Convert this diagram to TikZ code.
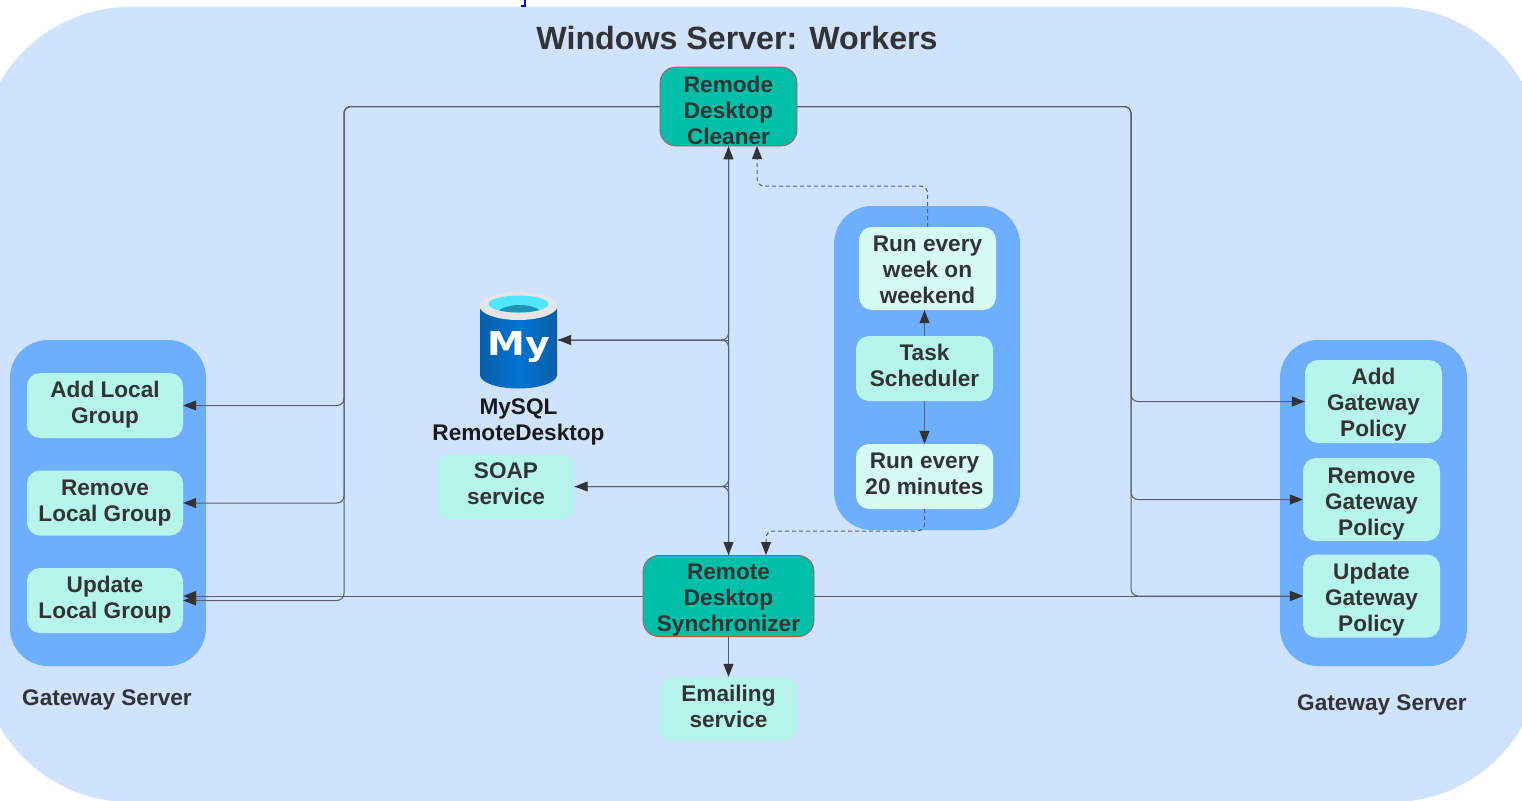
\documentclass[tikz,border=0pt]{standalone}
\usepackage{fontspec}
\setmainfont{Liberation Sans}
\newfontfamily\iconfont{DejaVu Sans}
\usetikzlibrary{arrows.meta}
\definecolor{cloudbg}{HTML}{CFE3FF}
\definecolor{groupbg}{HTML}{6EAEFF}
\definecolor{itembg}{HTML}{B6F5EC}
\definecolor{palebg}{HTML}{D5FBF3}
\definecolor{mainbg}{HTML}{00BFA8}
\definecolor{mainedge}{HTML}{C0505A}
\definecolor{inkgray}{HTML}{333333}
\definecolor{linegray}{HTML}{5A5F68}
\definecolor{drumside}{HTML}{0A5EA8}
\definecolor{drummid}{HTML}{0074D4}
\definecolor{drumtop}{HTML}{50E6FF}
\definecolor{drumdeep}{HTML}{1F94B8}
\tikzset{
  lbl/.style={text=inkgray,font=\fontsize{22.6}{26}\selectfont\bfseries,align=center,inner sep=0pt},
  textdown/.style={execute at begin node={\rule{0pt}{#1}}},
  textup/.style={execute at end node={\rule[-#1]{0pt}{#1}}},
  item/.style={lbl,fill=itembg,rounded corners=13pt,minimum width=137pt},
  paleitem/.style={item,fill=palebg},
  mainitem/.style={item,fill=mainbg,draw=mainedge,line width=0.8pt,rounded corners=16pt},
  groupbox/.style={fill=groupbg,rounded corners=38pt},
  tip/.style={-{Triangle[length=13pt,width=10pt,color=inkgray]}},
  plainconn/.style={draw=linegray,line width=1pt,rounded corners=7pt},
  conn/.style={plainconn,tip},
  dashconn/.style={conn,dash pattern=on 4pt off 3pt}
}
\begin{document}
\begin{tikzpicture}[x=1pt,y=-1pt]
  \useasboundingbox (0,0) rectangle (1522,800);
  \clip (0,0) rectangle (1522,800);
  %background
  \fill[cloudbg,rounded corners=150pt] (-20,7) rectangle (1542,802);
  \draw[blue!80!black,line width=1.2pt] (525,0)--(525,6)--(521,6);
  \node[lbl,font=\fontsize{32.2}{36}\selectfont\bfseries] (title) at (737,38) {Windows Server: Workers};
  %groups
  \fill[groupbox] (10,340) rectangle (206,666);
  \fill[groupbox] (834,206) rectangle (1020,530);
  \fill[groupbox] (1280,340) rectangle (1467,666);
  \node[lbl] (gwleft) at (107,700) {Gateway Server};
  \node[lbl] (gwright) at (1382,705) {Gateway Server};
  %local groups
  \node[item,textup=6.7pt,minimum width=156pt,minimum height=65pt] (addlocal) at (105,405.5) {Add Local\\Group};
  \node[item,minimum width=156pt,minimum height=65pt] (remlocal) at (105,503) {Remove\\Local Group};
  \node[item,textup=6.7pt,minimum width=156pt,minimum height=65pt] (updlocal) at (105,600.5) {Update\\Local Group};
  %gateway policies
  \node[item,textdown=74.5pt,minimum height=83pt] (addgw) at (1373.5,401.5) {Add\\Gateway\\Policy};
  \node[item,textdown=76.5pt,minimum height=83pt] (remgw) at (1371.5,499.5) {Remove\\Gateway\\Policy};
  \node[item,textdown=76.5pt,minimum height=83pt] (updgw) at (1371.5,596) {Update\\Gateway\\Policy};
  %scheduler
  \node[paleitem,textdown=70.5pt,minimum height=83pt] (runweek) at (927.5,268.5) {Run every\\week on\\weekend};
  \node[item,textup=6.3pt,minimum height=65pt] (sched) at (924.5,368.5) {Task\\Scheduler};
  \node[paleitem,textup=6.3pt,minimum height=65pt] (runmin) at (924.5,476.5) {Run every\\20 minutes};
  %middle
  \node[mainitem,textdown=76.5pt,minimum height=79pt] (cleaner) at (728.5,106.5) {Remode\\Desktop\\Cleaner};
  \node[mainitem,textdown=76.5pt,minimum width=171pt,minimum height=81pt] (sync) at (728.5,596) {Remote\\Desktop\\Synchronizer};
  \node[item,textup=5.3pt,minimum height=65pt] (soap) at (506,486.5) {SOAP\\service};
  \node[item,textup=6.3pt,minimum height=64pt] (email) at (728.5,709) {Emailing\\service};
  %mysql icon
  \shade[left color=drumside,right color=drumside,middle color=drummid] (480,307)--(480,375) arc[start angle=180,end angle=0,x radius=38.5,y radius=13.5]--(557,307)--cycle;
  \fill[gray!20] (518.5,306) ellipse[x radius=39,y radius=14];
  \fill[drumtop] (518.5,304) ellipse[x radius=30,y radius=8.5];
  \begin{scope}
    \clip (518.5,304) ellipse[x radius=30,y radius=8.5];
    \fill[drumdeep] (519.5,315) ellipse[x radius=23,y radius=10];
  \end{scope}
  \node[text=white,inner sep=0pt,xscale=1.15,font=\iconfont\fontsize{33}{36}\selectfont\bfseries] (mysql) at (518.5,347) {My};
  \coordinate (mysqlport) at (558,340);
  \node[lbl,text=black!90] (mysqllbl) at (518.5,422) {MySQL\\RemoteDesktop};
  %left and right buses
  \coordinate (busleft) at (344,106.5);
  \coordinate (busright) at (1131,106.5);
  \foreach \t in {addlocal,remlocal,updlocal}
    \draw[conn] (cleaner.west) -- (busleft) |- (\t.east);
  \foreach \t in {addgw,remgw,updgw}
    \draw[conn] (cleaner.east) -- (busright) |- (\t.west);
  \draw[conn] (sync.west) -- (sync.west -| updlocal.east);
  \draw[conn] (sync.east) -- (updgw.west);
  %middle bus
  \foreach \s in {cleaner.south,sync.north}{
    \draw[plainconn] (\s) |- (mysqlport);
    \draw[plainconn] (\s) |- (soap.east);
  }
  \draw[plainconn,{Triangle[length=13pt,width=10pt,color=inkgray]}-{Triangle[length=13pt,width=10pt,color=inkgray]}] (cleaner.south) -- (sync.north);
  \draw[conn] (cleaner.south |- mysqlport) -- (mysqlport);
  \draw[conn] (cleaner.south |- soap.east) -- (soap.east);
  \draw[conn] (sync.south) -- (email.north);
  %scheduler arrows
  \draw[conn] (sched.north) -- (sched.north |- runweek.south);
  \draw[conn] (sched.south) -- (runmin.north);
  \coordinate (cleanerport) at (757,146);
  \coordinate (syncport) at (766,555);
  \draw[dashconn] (runweek.north) |- (757,186) -- (cleanerport);
  \draw[dashconn] (runmin.south) |- (766,531) -- (syncport);
\end{tikzpicture}
\end{document}
